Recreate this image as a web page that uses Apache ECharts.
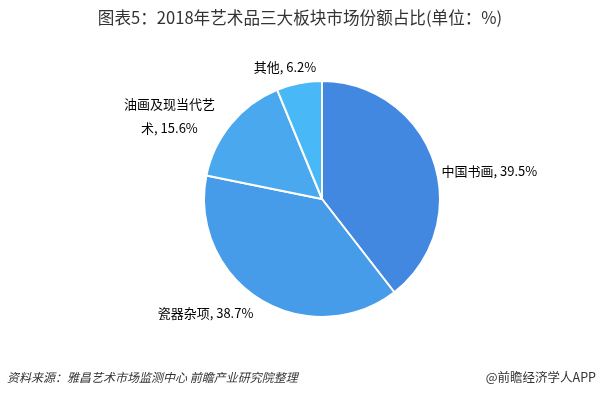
<!DOCTYPE html>
<html><head><meta charset="utf-8">
<script src="https://cdn.jsdelivr.net/npm/echarts@6/dist/echarts.min.js"></script>
<style>html,body{margin:0;padding:0;background:#fff}#c{width:600px;height:396px}</style>
</head><body><div id="c"></div>
<script>
const categories = ['中国书画', '瓷器杂项', '油画及现当代艺\n术', '其他'];
const values = [39.5, 38.7, 15.6, 6.2];
const colors = ['#4287e0', '#469ce8', '#4aa9ee', '#48b8f6'];
const titleText = '图表5：2018年艺术品三大板块市场份额占比(单位：%)';
const sourceText = '资料来源：雅昌艺术市场监测中心 前瞻产业研究院整理';
const brandText = '@前瞻经济学人APP';

const labelShift = [
  {dx: -1, dy: 12},
  {dx: 0, dy: 9},
  {dx: -6, dy: -4},
  {dx: 38, dy: -10}
];

const chart = echarts.init(document.getElementById('c'));
const font = '"Noto Sans CJK SC", sans-serif';
chart.setOption({
  animation: false,
  textStyle: {fontFamily: font},
  title: [
    {text: titleText, left: 'center', top: 4, textStyle: {fontSize: 16.6, fontWeight: 'normal', color: '#333', fontFamily: font}},
    {text: sourceText, left: 2, top: 366, textStyle: {fontSize: 12, fontWeight: 'normal', fontStyle: 'italic', color: '#333', fontFamily: font}},
    {text: brandText, right: -1, top: 366, textStyle: {fontSize: 12.5, fontWeight: 'normal', color: '#333', fontFamily: font}}
  ],
  series: [{
    type: 'pie',
    center: [322, 199],
    radius: [0, 118],
    startAngle: 90,
    clockwise: true,
    data: categories.map((n, i) => ({name: n, value: values[i], itemStyle: {color: colors[i]}})),
    itemStyle: {borderColor: '#fff', borderWidth: 2},
    label: {
      show: true, position: 'outside',
      formatter: p => (p.name + ', ' + p.value + '%').split('\n').map(s => '{t|' + s + '}').join('\n'),
      color: '#000', fontSize: 13, fontFamily: font, lineHeight: 24,
      rich: {t: {fontSize: 13, lineHeight: 24, color: '#000', fontFamily: font, width: 92, align: 'center'}}
    },
    labelLine: {show: false, length: 6, length2: 0},
    labelLayout: p => labelShift[p.dataIndex],
    emphasis: {disabled: true}
  }]
});
</script></body></html>
